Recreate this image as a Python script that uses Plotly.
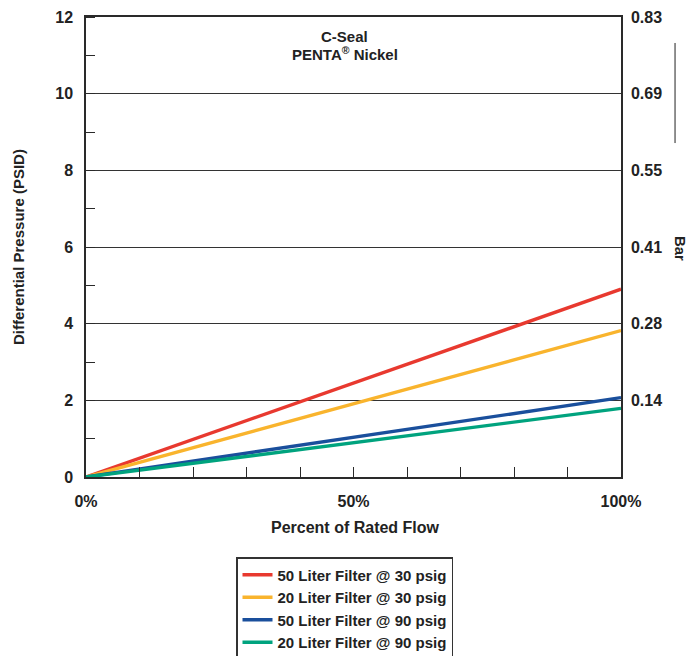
import plotly.graph_objects as go

flow = [0, 100]
series_names = ["50 Liter Filter @ 30 psig", "20 Liter Filter @ 30 psig",
                "50 Liter Filter @ 90 psig", "20 Liter Filter @ 90 psig"]
series_values = [[0, 4.9], [0, 3.82], [0, 2.07], [0, 1.79]]
series_colors = ["#E8392F", "#F9B42D", "#1A4F9C", "#00A37E"]
psid_ticks = [0, 2, 4, 6, 8, 10, 12]
bar_tickvals = [2, 4, 6, 8, 10, 12]
bar_ticktext = ["0.14", "0.28", "0.41", "0.55", "0.69", "0.83"]
x_tickvals = [0, 50, 100]
x_ticktext = ["0%", "50%", "100%"]

FONT = "Liberation Sans"
AX = "#2a2a2a"

fig = go.Figure()
for name, vals, col in zip(series_names, series_values, series_colors):
    fig.add_trace(go.Scatter(x=flow, y=vals, mode="lines", name=name,
                             line=dict(color=col, width=3.4)))
# invisible trace for right axis
fig.add_trace(go.Scatter(x=[0, 100], y=[0, 12], yaxis="y2", mode="lines",
                         line=dict(width=0), showlegend=False, hoverinfo="skip"))

fig.update_layout(
    width=689, height=656,
    margin=dict(l=86, r=68, t=17, b=179, autoexpand=False),
    paper_bgcolor="white", plot_bgcolor="white",
    font=dict(family=FONT, color="#222", size=15),
    showlegend=True,
    legend=dict(x=236 / 689, y=1 - 557 / 656, xref="container", yref="container",
                xanchor="left", yanchor="top",
                bordercolor="#333", borderwidth=1.5, bgcolor="white",
                font=dict(family=FONT, size=15, weight="bold", color="#222"),
                tracegroupgap=0, itemwidth=30),
    xaxis=dict(range=[0, 100], tickvals=x_tickvals, ticktext=x_ticktext,
               ticks="inside", ticklen=10, tickcolor=AX, tickwidth=1.2,
               minor=dict(dtick=10, tick0=0, ticks="inside", ticklen=10,
                          tickcolor=AX, tickwidth=1.2, showgrid=False),
               showgrid=False, zeroline=False, showline=True, linecolor=AX,
               linewidth=1.5, mirror=True,
               tickfont=dict(size=16, weight="bold"), ticklabelstandoff=9),
    yaxis=dict(range=[0, 12], tickvals=psid_ticks, ticks="", showgrid=True,
               gridcolor="#333", gridwidth=1, zeroline=False,
               showline=True, linecolor=AX, linewidth=1.5,
               minor=dict(dtick=1, tick0=0, ticks="inside", ticklen=9,
                          tickcolor=AX, tickwidth=1.2, showgrid=False),
               tickfont=dict(size=16, weight="bold"), ticklabelstandoff=8),
    yaxis2=dict(range=[0, 12], overlaying="y", side="right",
                tickvals=bar_tickvals, ticktext=bar_ticktext, ticks="",
                showgrid=False, zeroline=False, showline=True, linecolor=AX,
                linewidth=1.5, tickfont=dict(size=16, weight="bold"),
                ticklabelstandoff=5),
    annotations=[
        dict(text="C-Seal", xref="paper", yref="paper",
             x=0.484, y=(477 - 37) / 460, xanchor="center", yanchor="middle",
             showarrow=False,
             font=dict(family=FONT, size=15, weight="bold", color="#222")),
        dict(text="PENTA<sup>®</sup> Nickel", xref="paper", yref="paper",
             x=0.484, y=(477 - 54) / 460, xanchor="center", yanchor="middle",
             showarrow=False,
             font=dict(family=FONT, size=15, weight="bold", color="#222")),
        dict(text="Differential Pressure (PSID)", xref="paper", yref="paper",
             x=(18 - 86) / 535, y=(477 - 247) / 460, xanchor="center",
             yanchor="middle", textangle=-90, showarrow=False,
             font=dict(family=FONT, size=15, weight="bold", color="#222")),
        dict(text="Percent of Rated Flow", xref="paper", yref="paper",
             x=(355 - 86) / 535, y=(477 - 527) / 460, xanchor="center",
             yanchor="middle", showarrow=False,
             font=dict(family=FONT, size=16, weight="bold", color="#222")),
        dict(text="Bar", xref="paper", yref="paper", x=(680 - 86) / 535, y=0.498,
             xanchor="center", yanchor="middle", textangle=90, showarrow=False,
             font=dict(family=FONT, size=15, weight="bold", color="#222")),
    ],
    shapes=[dict(type="line", xref="paper", yref="paper", x0=1.101, x1=1.101,
                 y0=0.9435, y1=0.726, line=dict(color="#222", width=1))],
)

fig.write_html("out.html", config={"displayModeBar": False},
               post_script="document.body.style.margin='0px';")
